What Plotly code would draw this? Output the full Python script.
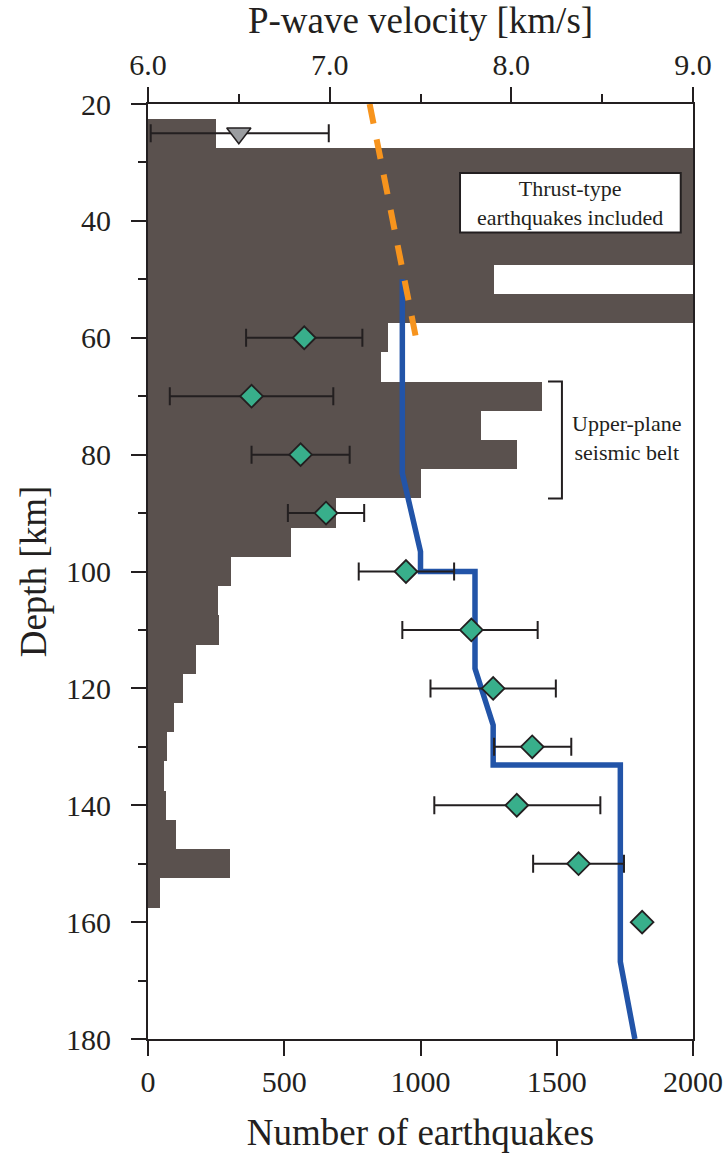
import plotly.graph_objects as go

# ---------------- data ----------------
# Histogram of earthquake counts (5-km depth bins, centres)
bin_depth = [25, 30, 35, 40, 45, 50, 55, 60, 65, 70, 75, 80, 85, 90, 95, 100,
             105, 110, 115, 120, 125, 130, 135, 140, 145, 150, 155]
bin_count = [250, 2400, 2900, 2700, 2300, 1270, 2200, 882, 854, 1445, 1221, 1353, 1002, 690, 525, 305,
             258, 261, 176, 127, 95, 69, 59, 66, 101, 301, 44]

# Vp estimates (diamonds) with asymmetric errors
vp_depth = [60, 70, 80, 90, 100, 110, 120, 130, 140, 150, 160]
vp_val = [6.86, 6.57, 6.84, 6.98, 7.42, 7.78, 7.90, 8.115, 8.03, 8.37, 8.72]
vp_lo = [6.54, 6.12, 6.57, 6.77, 7.16, 7.40, 7.555, 7.905, 7.576, 8.12, 8.72]
vp_hi = [7.18, 7.02, 7.11, 7.19, 7.685, 8.145, 8.245, 8.33, 8.49, 8.62, 8.72]

# shallow estimate (triangle)
tri_depth = [25]
tri_val = [6.50]
tri_lo = [6.015]
tri_hi = [6.995]

# reference velocity model (blue)
model_depth = [50, 83.2, 96.6, 100, 100, 116.6, 126.3, 133.1, 133.1, 166.8, 180]
model_vp = [7.40, 7.40, 7.50, 7.50, 7.80, 7.80, 7.90, 7.90, 8.60, 8.60, 8.68]

# orange dashed line
slab_depth = [20, 60]
slab_vp = [7.22, 7.475]

FONT = "Liberation Serif"
INK = "#231F20"

fig = go.Figure()

fig.add_trace(go.Bar(
    y=bin_depth, x=bin_count, orientation="h", width=5,
    marker=dict(color="#5A514E", line=dict(width=0)),
    xaxis="x", yaxis="y", showlegend=False, hoverinfo="skip"))

fig.add_trace(go.Scatter(
    x=model_vp, y=model_depth, mode="lines", xaxis="x2", yaxis="y",
    line=dict(color="#2254A8", width=5.5), showlegend=False))

fig.add_trace(go.Scatter(
    x=slab_vp, y=slab_depth, mode="lines", xaxis="x2", yaxis="y",
    line=dict(color="#F7941D", width=6, dash="20px,16px"), showlegend=False))

fig.add_trace(go.Scatter(
    x=tri_val, y=tri_depth, mode="markers", xaxis="x2", yaxis="y",
    marker=dict(symbol="triangle-down", size=21, color="#9B9DA0",
                line=dict(color=INK, width=1.5)),
    error_x=dict(type="data", symmetric=False,
                 array=[h - v for h, v in zip(tri_hi, tri_val)],
                 arrayminus=[v - l for v, l in zip(tri_val, tri_lo)],
                 color=INK, thickness=2, width=9),
    showlegend=False))

fig.add_trace(go.Scatter(
    x=vp_val, y=vp_depth, mode="markers", xaxis="x2", yaxis="y",
    marker=dict(symbol="diamond", size=17.5, color="#38AF8B",
                line=dict(color=INK, width=1.8)),
    error_x=dict(type="data", symmetric=False,
                 array=[h - v for h, v in zip(vp_hi, vp_val)],
                 arrayminus=[v - l for v, l in zip(vp_val, vp_lo)],
                 color=INK, thickness=2, width=9),
    showlegend=False))

tickfont = dict(family=FONT, size=30, color=INK)
titlefont = dict(family=FONT, size=37, color=INK)

fig.update_layout(
    width=727, height=1157,
    margin=dict(l=148, r=34, t=104, b=118),
    paper_bgcolor="white", plot_bgcolor="white",
    bargap=0,
    xaxis=dict(range=[0, 2000], tickvals=[0, 500, 1000, 1500, 2000], automargin=False,
               ticks="outside", ticklen=15, tickwidth=2, tickcolor=INK,
               showline=True, linewidth=2, linecolor=INK, showgrid=False,
               zeroline=False, tickfont=tickfont,
               title=dict(text="Number of earthquakes", font=titlefont, standoff=22)),
    xaxis2=dict(range=[6, 9], overlaying="x", side="top", anchor="y", automargin=False,
                tickvals=[6, 7, 8, 9], tickformat=".1f",
                ticks="outside", ticklen=15, tickwidth=2, tickcolor=INK,
                minor=dict(dtick=0.5, tick0=6, ticks="outside", ticklen=8, tickwidth=2, tickcolor=INK),
                showline=True, linewidth=2, linecolor=INK, showgrid=False,
                zeroline=False, tickfont=tickfont,
                title=dict(text="P-wave velocity [km/s]", font=titlefont, standoff=6)),
    yaxis=dict(range=[180, 20], tickvals=list(range(20, 181, 20)), automargin=False,
               ticks="outside", ticklen=15, tickwidth=2, tickcolor=INK,
               minor=dict(dtick=10, tick0=20, ticks="outside", ticklen=8, tickwidth=2, tickcolor=INK),
               showline=True, linewidth=2, linecolor=INK, mirror=True,
               showgrid=False, zeroline=False, tickfont=tickfont, ticklabelstandoff=14,
               title=dict(text="Depth [km]", font=titlefont, standoff=8)),
)

# annotation box
fig.add_shape(type="rect", xref="x", yref="y", x0=1145, x1=1955, y0=31.8, y1=42.0,
              fillcolor="white", line=dict(color=INK, width=2), layer="above")
fig.add_annotation(xref="x", yref="y", x=1550, y=36.9,
                   text="Thrust-type<br>earthquakes included", showarrow=False,
                   font=dict(family=FONT, size=22, color=INK), align="center")

# bracket
fig.add_shape(type="path", xref="x", yref="y",
              path="M 1468,67.5 L 1519,67.5 L 1519,87.5 L 1468,87.5",
              line=dict(color=INK, width=2), layer="above")
fig.add_annotation(xref="x", yref="y", x=1757, y=77.2,
                   text="Upper-plane<br>seismic belt", showarrow=False,
                   font=dict(family=FONT, size=22, color=INK), align="center")

fig.write_html("out.html")
